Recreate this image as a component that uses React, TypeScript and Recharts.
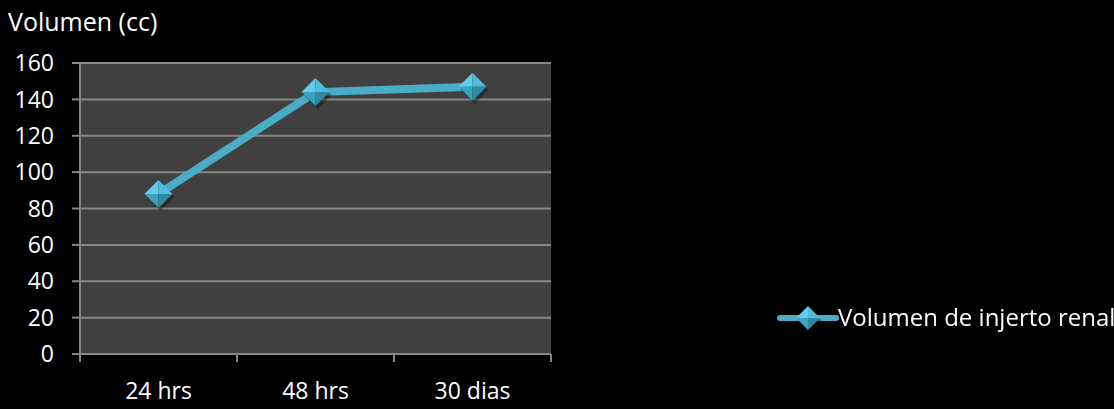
import { LineChart, Line, XAxis, YAxis, CartesianGrid, Legend } from "recharts";

const periods = ["24 hrs", "48 hrs", "30 dias"];
const volumes = [88, 144, 147];
const yTicks = [0, 20, 40, 60, 80, 100, 120, 140, 160];
const seriesName = "Volumen de injerto renal";
const axisTitle = "Volumen (cc)";

const data = periods.map((p, i) => ({ period: p, volume: volumes[i] }));

const W = 1114;
const H = 409;
const margin = { top: 63, right: 563, bottom: 0, left: 0 };
const plotWidth = W - 80 - margin.right;
const step = plotWidth / periods.length;

const font = "'Open Sans', sans-serif";
const gridColor = "#868686";
const lineColor = "#4bacc6";

function Diamond({ cx, cy, r = 14 }: { cx: number; cy: number; r?: number }) {
  return (
    <g>
      <polygon
        points={`${cx + 2},${cy - r + 3} ${cx + r + 2},${cy + 3} ${cx + 2},${cy + r + 3} ${cx - r + 2},${cy + 3}`}
        fill="#000"
        opacity={0.35}
      />
      <polygon points={`${cx},${cy - r} ${cx - r},${cy} ${cx},${cy}`} fill="#62cdea" />
      <polygon points={`${cx},${cy - r} ${cx + r},${cy} ${cx},${cy}`} fill="#4fbedc" />
      <polygon points={`${cx - r},${cy} ${cx},${cy + r} ${cx},${cy}`} fill="#3aa3bf" />
      <polygon points={`${cx + r},${cy} ${cx},${cy + r} ${cx},${cy}`} fill="#2f8ba4" />
    </g>
  );
}

function renderDot(props: any) {
  const { cx, cy, index } = props;
  if (cx == null || cy == null) return <g key={index} />;
  return <Diamond key={index} cx={cx} cy={cy} />;
}

function PeriodTick(props: any) {
  const { x, y, payload, index } = props;
  const left = x - step / 2;
  const right = x + step / 2;
  return (
    <g>
      <line x1={left} x2={left} y1={y - 8} y2={y} stroke={gridColor} strokeWidth={2} />
      {index === periods.length - 1 && (
        <line x1={right} x2={right} y1={y - 8} y2={y} stroke={gridColor} strokeWidth={2} />
      )}
      <text x={x} y={y + 37} textAnchor="middle" fill="#fff" fontSize={23} fontFamily={font}>
        {payload.value}
      </text>
    </g>
  );
}

function LegendContent() {
  return (
    <svg width={340} height={30} style={{ overflow: "visible" }}>
      <line x1={2} x2={58} y1={15} y2={15} stroke={lineColor} strokeWidth={6} strokeLinecap="round" />
      <Diamond cx={30} cy={15} r={12} />
      <text x={60} y={23} fill="#fff" fontSize={24} fontFamily={font}>
        {seriesName}
      </text>
    </svg>
  );
}

export default function App() {
  return (
    <div style={{ position: "fixed", left: 0, top: 0, width: W, height: H, background: "#000" }}>
      <LineChart width={W} height={H} data={data} margin={margin}>
        <CartesianGrid vertical={false} stroke={gridColor} strokeWidth={2} fill="#404040" />
        <XAxis
          dataKey="period"
          scale="band"
          height={55}
          axisLine={{ stroke: gridColor, strokeWidth: 2 }}
          tickLine={false}
          tick={<PeriodTick />}
          interval={0}
        />
        <YAxis
          width={80}
          domain={[0, 160]}
          ticks={yTicks}
          interval={0}
          axisLine={{ stroke: gridColor, strokeWidth: 2 }}
          tickLine={{ stroke: gridColor, strokeWidth: 2 }}
          tickSize={8}
          tickMargin={18}
          tick={{ fill: "#fff", fontSize: 23, fontFamily: font }}
          label={{
            content: ({ viewBox }: any) => (
              <text x={viewBox.x + 8} y={viewBox.y - 32} fill="#fff" fontSize={25} fontFamily={font}>
                {axisTitle}
              </text>
            ),
          }}
        />
        <Legend
          layout="horizontal"
          verticalAlign="middle"
          align="center"
          content={<LegendContent />}
          wrapperStyle={{ left: 778, top: 303, width: 340, height: 30 }}
        />
        <Line
          dataKey="volume"
          name={seriesName}
          stroke={lineColor}
          strokeWidth={8}
          dot={renderDot}
          activeDot={false}
          isAnimationActive={false}
        />
      </LineChart>
    </div>
  );
}
